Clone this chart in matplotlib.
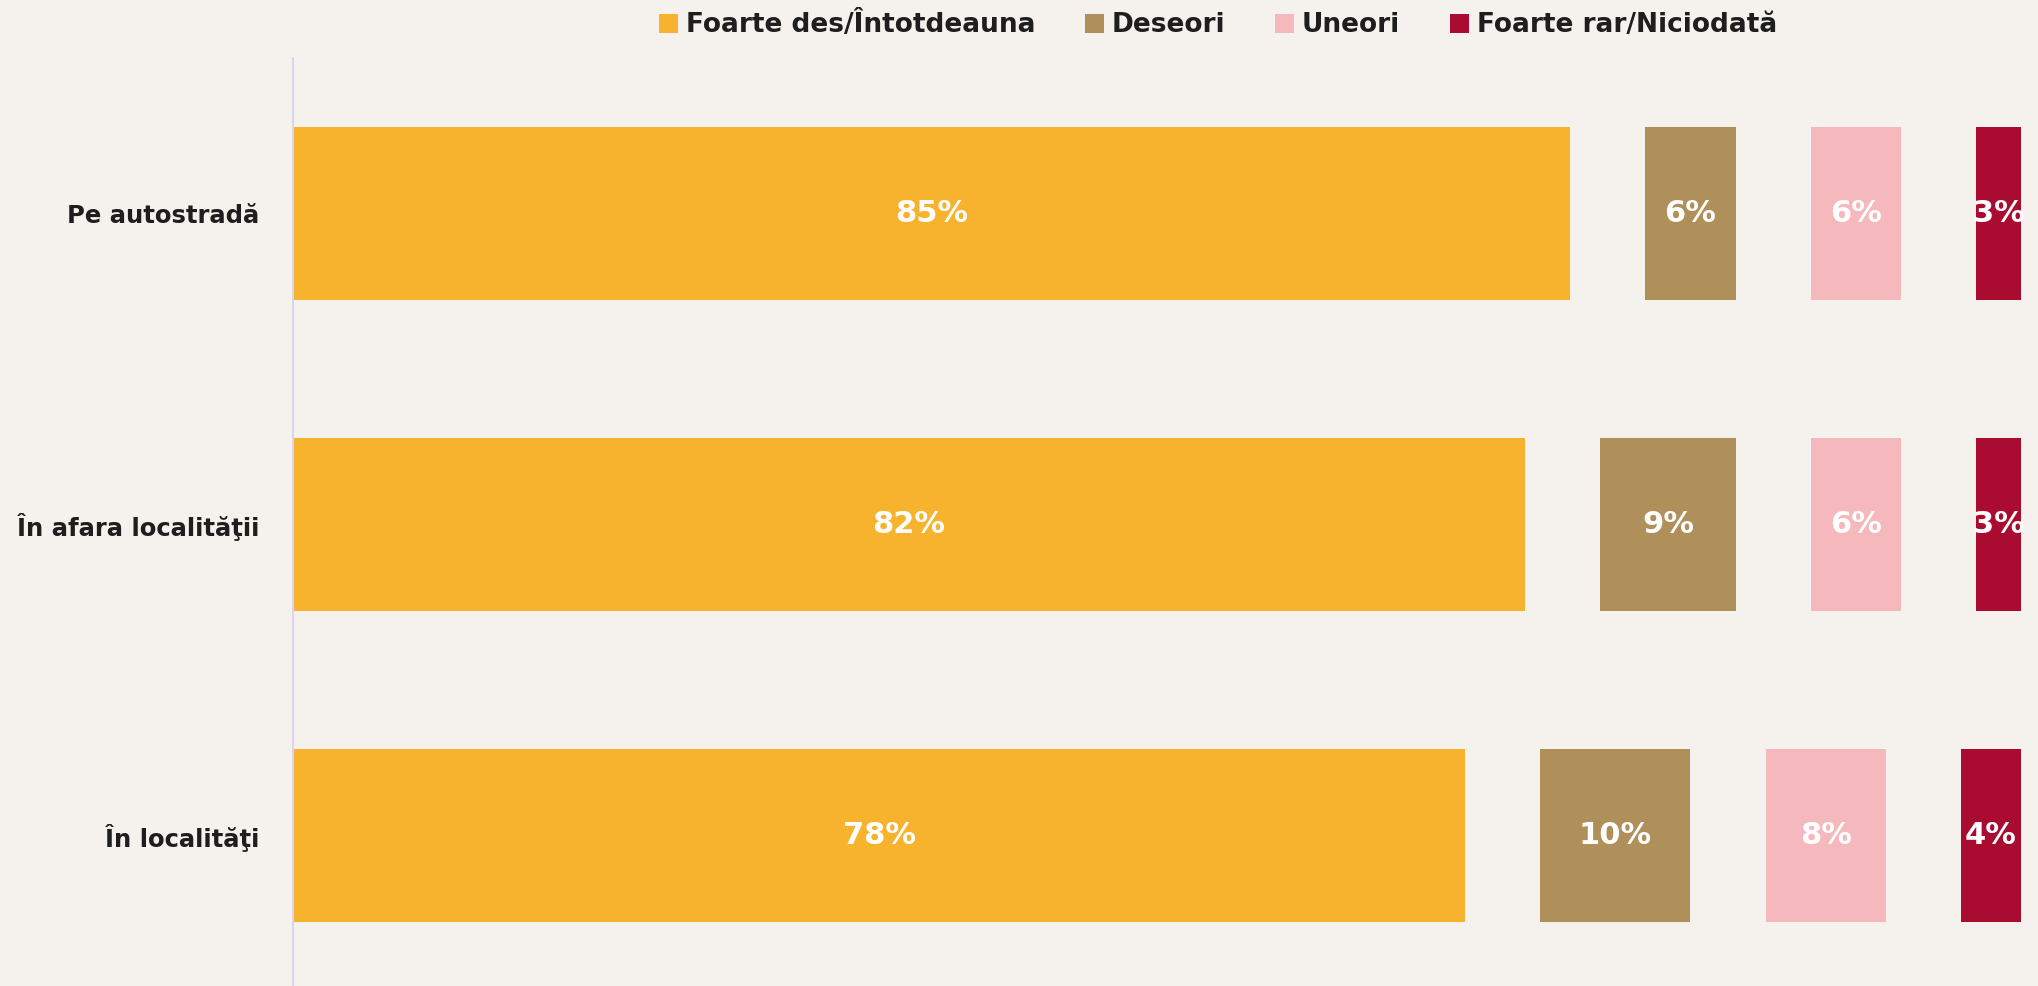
import matplotlib
matplotlib.use("Agg")
import matplotlib.pyplot as plt
from matplotlib.patches import Patch

# data
categories = ['Pe autostradă', 'În afara localităţii', 'În localităţi']
series_names = ['Foarte des/Întotdeauna', 'Deseori', 'Uneori', 'Foarte rar/Niciodată']
foarte_des = [85, 82, 78]
deseori = [6, 9, 10]
uneori = [6, 6, 8]
foarte_rar = [3, 3, 4]

colors = ['#F7B32D', '#AF8F5A', '#F5B8BC', '#A90C30']
bg = '#F5F2ED'
gap = 5  # spacing between segments, in percentage units

plt.rcParams['font.family'] = ['DejaVu Sans']

fig = plt.figure(figsize=(20.38, 9.86), dpi=100, facecolor=bg)
ax = fig.add_axes([293 / 2038, -5 / 986, 1728 / 2038, 933 / 986])
ax.set_facecolor(bg)

series = [foarte_des, deseori, uneori, foarte_rar]
y = list(range(len(categories)))
left = [0.0] * len(categories)
for name, vals, col in zip(series_names, series, colors):
    bars = ax.barh(y, vals, left=left, height=0.555, color=col, label=name)
    for i, (b, v) in enumerate(zip(bars, vals)):
        ax.text(left[i] + v / 2, i, f'{v}%', ha='center', va='center',
                color='white', fontsize=22, fontweight='bold')
    left = [l + v + gap for l, v in zip(left, vals)]

ax.set_xlim(0, 100 + 3 * gap)
ax.set_ylim(len(categories) - 0.5, -0.5)
ax.set_yticks(y)
ax.set_yticklabels(categories, fontsize=17.5, fontweight='bold', color='#1E1E1E')
ax.tick_params(axis='y', length=0, pad=24)
ax.set_xticks([])
for s in ['top', 'right', 'bottom']:
    ax.spines[s].set_visible(False)
ax.spines['left'].set_color('#D9D5EE')
ax.spines['left'].set_linewidth(1.5)

handles = [Patch(facecolor=c, edgecolor='none') for c in colors]
leg = fig.legend(handles, series_names, loc='center', ncol=4,
                 bbox_to_anchor=(1218 / 2038, 1 - 25 / 986), frameon=False,
                 prop={'size': 19, 'weight': 'bold'},
                 handlelength=0.7, handleheight=0.7, handletextpad=0.3,
                 columnspacing=1.9)
for t in leg.get_texts():
    t.set_color('#1E1E1E')

fig.savefig('out.png', dpi=100, facecolor=bg)
